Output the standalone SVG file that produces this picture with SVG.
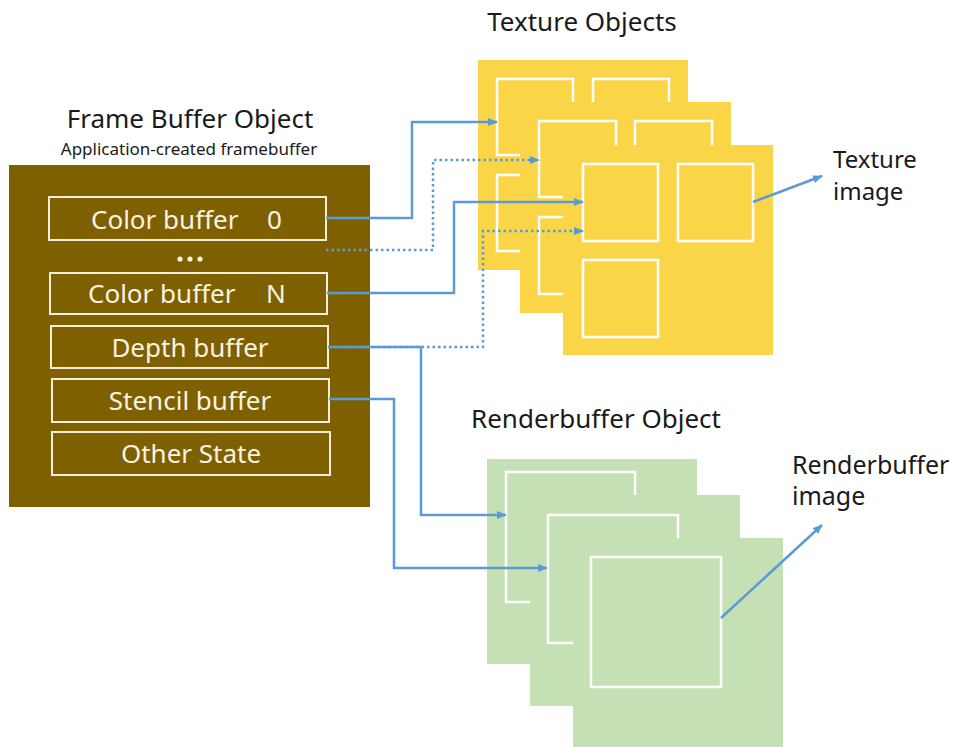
<svg xmlns="http://www.w3.org/2000/svg" width="955" height="747" viewBox="0 0 955 747">
<defs>
<style>
.t{font-family:"Noto Sans","Open Sans","Liberation Sans",sans-serif;fill:#1a1a1a}
.w{font-family:"Noto Sans","Open Sans","Liberation Sans",sans-serif;fill:#f7f3e3;font-size:26px}
.slot{fill:none;stroke:#f3efd9;stroke-width:2}
.ysheet{fill:#fbd548}
.gsheet{fill:#c5e0b4}
.inner{fill:none;stroke:#ffffff;stroke-width:2.5}
.c{fill:none;stroke:#5b9bd5;stroke-width:2.5}
.d{fill:none;stroke:#5b9bd5;stroke-width:2.5;stroke-dasharray:2.5 3}
</style>
<marker id="ah" markerWidth="10" markerHeight="8" refX="9" refY="4" orient="auto" markerUnits="userSpaceOnUse">
<path d="M0,0 L10,4 L0,8 Z" fill="#5b9bd5"/>
</marker>
</defs>
<rect width="955" height="747" fill="#ffffff"/>

<g id="fbo">
<text class="t" x="190" y="128" font-size="26" text-anchor="middle">Frame Buffer Object</text>
<text class="t" x="189" y="155" font-size="17" text-anchor="middle">Application-created framebuffer</text>
<rect x="9" y="165" width="361" height="342" fill="#7f6000"/>
<g id="color0">
<rect class="slot" x="49" y="197" width="277" height="43"/>
<text class="w" x="91" y="229">Color buffer</text>
<text class="w" x="267" y="229">0</text>
</g>
<g id="dots" fill="#f7f3e3">
<circle cx="180" cy="259" r="2.6"/><circle cx="190" cy="259" r="2.6"/><circle cx="200" cy="259" r="2.6"/>
</g>
<g id="colorN">
<rect class="slot" x="50" y="273" width="277" height="41"/>
<text class="w" x="88" y="303">Color buffer</text>
<text class="w" x="266" y="303">N</text>
</g>
<g id="depth">
<rect class="slot" x="51" y="326" width="277" height="42"/>
<text class="w" x="190" y="357" text-anchor="middle">Depth buffer</text>
</g>
<g id="stencil">
<rect class="slot" x="52" y="379" width="277" height="43"/>
<text class="w" x="190" y="410" text-anchor="middle">Stencil buffer</text>
</g>
<g id="other">
<rect class="slot" x="52" y="432" width="278" height="43"/>
<text class="w" x="191" y="463" text-anchor="middle">Other State</text>
</g>
</g>

<g id="textures">
<text class="t" x="582" y="31" font-size="26" text-anchor="middle">Texture Objects</text>
<g id="tex-back">
<rect class="ysheet" x="478" y="60" width="210" height="210"/>
<rect class="inner" x="497" y="79" width="76" height="76"/>
<rect class="inner" x="593" y="79" width="76" height="76"/>
<rect class="inner" x="497" y="175" width="76" height="76"/>
</g>
<g id="tex-mid">
<rect class="ysheet" x="520" y="102" width="211" height="211"/>
<rect class="inner" x="539" y="121" width="77" height="76"/>
<rect class="inner" x="635" y="121" width="77" height="76"/>
<rect class="inner" x="539" y="217" width="77" height="77"/>
</g>
<g id="tex-front">
<rect class="ysheet" x="563" y="145" width="210" height="210"/>
<rect class="inner" x="583" y="164" width="75" height="77"/>
<rect class="inner" x="678" y="164" width="75" height="77"/>
<rect class="inner" x="583" y="260" width="75" height="77"/>
</g>
<text class="t" x="833" y="168" font-size="24">Texture</text>
<text class="t" x="833" y="200" font-size="24">image</text>
</g>

<g id="renderbuffers">
<text class="t" x="596" y="428" font-size="26" text-anchor="middle">Renderbuffer Object</text>
<g id="rb-back">
<rect class="gsheet" x="487" y="459" width="210" height="205"/>
<rect class="inner" x="506" y="472" width="129" height="130"/>
</g>
<g id="rb-mid">
<rect class="gsheet" x="530" y="495" width="210" height="211"/>
<rect class="inner" x="548" y="515" width="130" height="128"/>
</g>
<g id="rb-front">
<rect class="gsheet" x="573" y="538" width="210" height="215"/>
<rect class="inner" x="591" y="557" width="130" height="130"/>
</g>
<text class="t" x="792" y="474" font-size="25">Renderbuffer</text>
<text class="t" x="792" y="505" font-size="25">image</text>
</g>

<g id="connectors">
<polyline class="c" points="326,218 412,218 412,122 497,122" marker-end="url(#ah)"/>
<polyline class="d" points="326,250 433,250 433,160 539,160" marker-end="url(#ah)"/>
<polyline class="c" points="327,293 454,293 454,202 583,202" marker-end="url(#ah)"/>
<polyline class="d" points="328,347 483,347 483,231 583,231" marker-end="url(#ah)"/>
<polyline class="c" points="328,347 421,347 421,515 506,515" marker-end="url(#ah)"/>
<polyline class="c" points="329,399 394,399 394,568 547,568" marker-end="url(#ah)"/>
<line class="c" x1="753" y1="202" x2="822" y2="176" marker-end="url(#ah)"/>
<line class="c" x1="721" y1="618" x2="822" y2="525" marker-end="url(#ah)"/>
</g>
</svg>
